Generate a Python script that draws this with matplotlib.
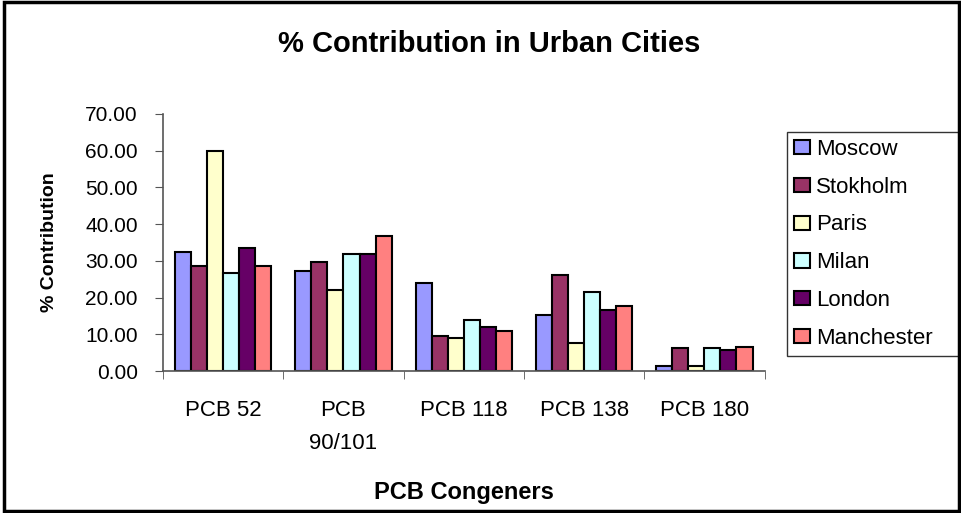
import matplotlib
matplotlib.use('Agg')
import matplotlib.pyplot as plt
import matplotlib.patches as patches
import numpy as np

plt.rcParams['font.family'] = ['Liberation Sans', 'DejaVu Sans']

congeners = ['PCB 52', 'PCB\n90/101', 'PCB 118', 'PCB 138', 'PCB 180']
cities = ['Moscow', 'Stokholm', 'Paris', 'Milan', 'London', 'Manchester']
colors = ['#9999FF', '#993366', '#FFFFCC', '#CCFFFF', '#660066', '#FF8080']

moscow = [32.4, 27.2, 23.9, 15.3, 1.45]
stokholm = [28.6, 29.6, 9.45, 26.2, 6.3]
paris = [60.0, 22.0, 9.1, 7.6, 1.45]
milan = [26.7, 31.9, 13.8, 21.5, 6.3]
london = [33.4, 31.9, 11.9, 16.7, 5.7]
manchester = [28.6, 36.7, 10.9, 17.6, 6.6]

series = [moscow, stokholm, paris, milan, london, manchester]

fig = plt.figure(figsize=(9.61, 5.13), dpi=100)
ax = fig.add_axes([0.1696, 0.2768, 0.626, 0.501])

x = np.arange(len(congeners))
w = 0.8 / len(cities)
for i, (name, vals) in enumerate(zip(cities, series)):
    ax.bar(x - 0.4 + w * (i + 0.5), vals, width=w, color=colors[i],
           edgecolor='black', linewidth=1.5, label=name)

ax.set_xlim(-0.5, len(congeners) - 0.5)
ax.set_ylim(0, 70)
ax.set_yticks(np.arange(0, 71, 10))
ax.set_yticklabels(['%.2f' % v for v in np.arange(0, 71, 10)], fontsize=15)
ax.set_xticks(x)
ax.set_xticklabels(congeners, fontsize=16, linespacing=1.75)
ax.set_xticks(np.arange(-0.5, len(congeners), 1), minor=True)
ax.tick_params(axis='x', which='major', length=0, pad=21)
ax.tick_params(axis='x', which='minor', length=6, color='#555555')
ax.tick_params(axis='y', length=6, color='#555555', pad=12)

for s in ['top', 'right']:
    ax.spines[s].set_visible(False)
for s in ['left', 'bottom']:
    ax.spines[s].set_color('#555555')
    ax.spines[s].set_linewidth(1.2)

ax.set_ylabel('% Contribution', fontsize=14, fontweight='bold', labelpad=20)
ax.set_xlabel('PCB Congeners', fontsize=17, fontweight='bold', labelpad=19)

fig.suptitle('% Contribution in Urban Cities', fontsize=21, fontweight='bold',
             x=0.509, y=0.942)

leg = ax.legend(loc='upper left', bbox_to_anchor=(0.819, 0.3119, 0.195, 0.4308),
                bbox_transform=fig.transFigure, mode='expand', fontsize=16,
                frameon=True, fancybox=False, edgecolor='black',
                handlelength=0.75, handleheight=0.6, handletextpad=0.25,
                labelspacing=0.76, borderpad=0.3, borderaxespad=0)
leg.get_frame().set_linewidth(1.0)

fig.patches.append(patches.Rectangle((0.004, 0.003), 0.994, 0.994,
                                     transform=fig.transFigure, fill=False,
                                     edgecolor='black', linewidth=2.5))

fig.savefig('out.png', dpi=100)
